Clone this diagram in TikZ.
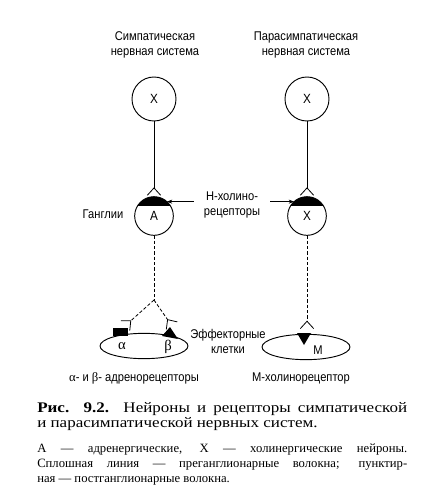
\documentclass[tikz,border=0pt]{standalone}
\usepackage{fontspec}
\setmainfont{Liberation Serif}
\newfontfamily\labfont[FakeStretch=0.88]{Liberation Sans}
\newfontfamily\capfont[FakeStretch=1.16]{Liberation Serif}
\usetikzlibrary{positioning,shapes.geometric,arrows.meta,calc}

\tikzset{
    neuron/.style={circle,draw,line width=0.7pt,minimum size=33pt,inner sep=0pt,outer sep=0pt,font=\labfont\fontsize{10}{12}\selectfont},
    ganglion/.style={neuron,minimum size=29pt},
    cell/.style={ellipse,draw,line width=0.7pt,minimum width=66pt,minimum height=19pt,inner sep=0pt},
    lbl/.style={font=\labfont\fontsize{9.5}{11.25}\selectfont,align=center},
    fiber/.style={line width=0.6pt},
    postfiber/.style={line width=0.6pt,dash pattern=on 2.5pt off 1.5pt},
    synend/.style={-{Straight Barb[reversed,length=5.5pt,width=10pt,line width=0.6pt]}},
    hint/.style={-{Stealth[length=4pt,width=3pt]},line width=0.5pt},
    capline/.style={anchor=base west,inner sep=0pt,font=\capfont\fontsize{11}{12}\selectfont},
    noteline/.style={anchor=base west,inner sep=0pt,font=\fontsize{9.5}{11}\selectfont}
}

\begin{document}
\begin{tikzpicture}[x=0.75pt,y=-0.75pt]
        \useasboundingbox (0,0) rectangle (422,500);
        \node[lbl] (symp) at (155,45) {Симпатическая\\нервная система};
        \node[lbl] (para) at (306,45) {Парасимпатическая\\нервная система};
        \node[neuron] (x1) at (154,99) {Х};
        \node[neuron] (x2) at (307,99) {Х};
        \node[ganglion] (g1) at (154,216) {А};
        \node[ganglion] (g2) at (307,216) {Х};
        \fill (g1.148) arc[start angle=148,end angle=32,radius=14.5pt] -- cycle;
        \fill (g2.148) arc[start angle=148,end angle=32,radius=14.5pt] -- cycle;
        \coordinate (s1) at ($(g1.north)+(0,-1)$);
        \coordinate (s2) at ($(g2.north)+(0,-1)$);
        \draw[fiber,synend] (x1) -- (s1);
        \draw[fiber,synend] (x2) -- (s2);
        \node[lbl,anchor=east] (gang) at (128,214) {Ганглии};
        \node[lbl] (hrec) at (232,205) {Н-холино-\\рецепторы};
        \draw[hint] ([xshift=-4pt]hrec.west |- g1.48) -- (g1.48);
        \draw[hint] ([xshift=4pt]hrec.east |- g2.132) -- (g2.132);
        \node[cell] (e1) at (144,346) {};
        \node[cell] (e2) at (306,347) {};
        \fill (113,328) rectangle (128,336);
        \fill (162,336) -- (170,327) -- (178,339) -- cycle;
        \fill (297,333) -- (311,333) -- (304,345) -- cycle;
        \coordinate (fork) at (154,300);
        \coordinate (ea) at (125,326);
        \coordinate (eb) at (172,326);
        \coordinate (ec) at (307,329);
        \draw[postfiber] (g1) -- (fork);
        \draw[postfiber,synend] (fork) -- (ea);
        \draw[postfiber,synend] (fork) -- (eb);
        \draw[postfiber,synend] (g2) -- (ec);
        \node[font=\fontsize{11}{12}\selectfont] (alpha) at (122,346) {α};
        \node[font=\fontsize{11}{12}\selectfont] (beta) at (168,347) {β};
        \node[lbl] (mlab) at (318,350) {М};
        \node[lbl] (eff) at (228,341) {Эффекторные\\клетки};
        \node[lbl] (adr) at (134,378) {{\rmfamily α}- и {\rmfamily β}- адренорецепторы};
        \node[lbl] (mch) at (301,378) {М-холинорецептор};
        \node[capline] (cap1) at (37,412) {\makebox[277.5pt][s]{\textbf{Рис. 9.2.} Нейроны и рецепторы симпатической}};
        \node[capline] (cap2) at (37,427) {и парасимпатической нервных систем.};
        \node[noteline] (note1) at (37,452) {\makebox[277.5pt][s]{А — адренергические, Х — холинергические нейроны.}};
        \node[noteline] (note2) at (37,467) {\makebox[277.5pt][s]{Сплошная линия — преганглионарные волокна; пунктир-}};
        \node[noteline] (note3) at (37,482) {ная — постганглионарные волокна.};
\end{tikzpicture}
\end{document}
